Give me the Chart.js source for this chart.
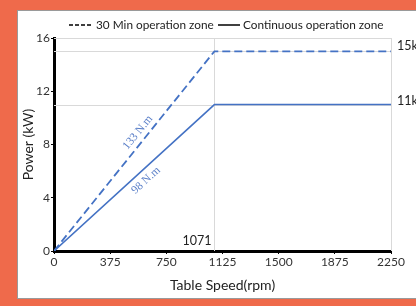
<!DOCTYPE html>
<html>
<head>
<meta charset="utf-8">
<script src="https://cdn.jsdelivr.net/npm/chart.js@4.4.0/dist/chart.umd.min.js"></script>
<style>
  html, body { margin: 0; padding: 0; }
  body { width: 416px; height: 306px; background: #EF6A4B; position: relative; overflow: hidden; }
  #panel { position: absolute; left: 17px; top: 10px; width: 410px; height: 287px; background: #fff; border: 1px solid #9a9a9a; }
  #chart { position: absolute; left: 0; top: 0; }
</style>
</head>
<body>
<div id="panel"></div>
<canvas id="chart" width="416" height="306"></canvas>
<script>
// datos de la gráfica
const speedPoints = [0, 1071, 2250];
const power30Min = [0, 15, 15];
const powerContinuous = [0, 11, 11];
const seriesNames = ["30 Min operation zone", "Continuous operation zone"];
const levelLabels = ["15kW", "11kW"];
const torqueLabels = ["133 N.m", "98 N.m"];
const cornerSpeed = 1071;

const FONT = "Lato, 'Open Sans', sans-serif";
const BLUE = "#4472C4";

function toXY(xs, ys) {
    return xs.map((x, i) => ({ x: x, y: ys[i] }));
}

// líneas de cuadrícula, marco y textos
const decorPlugin = {
    id: "decor",
    beforeDatasetsDraw(chart) {
        const { ctx, chartArea: a, scales: { x, y } } = chart;
        ctx.save();
        ctx.strokeStyle = "#d9d9d9";
        ctx.lineWidth = 1;
        ctx.beginPath();
        [power30Min[1], powerContinuous[1], 16].forEach(v => {
            const py = Math.round(y.getPixelForValue(v)) + 0.5;
            ctx.moveTo(a.left, py);
            ctx.lineTo(a.right, py);
        });
        [cornerSpeed, 2250].forEach(v => {
            const px = Math.round(x.getPixelForValue(v)) + 0.5;
            ctx.moveTo(px, a.top);
            ctx.lineTo(px, a.bottom);
        });
        ctx.stroke();
        ctx.restore();
    },
    afterDraw(chart) {
        const { ctx, scales: { x, y } } = chart;
        ctx.save();

        // leyenda
        ctx.font = "11.8px " + FONT;
        ctx.fillStyle = "#222";
        ctx.textBaseline = "middle";
        ctx.strokeStyle = "#000";
        ctx.lineWidth = 1.5;
        ctx.setLineDash([4, 2]);
        ctx.beginPath(); ctx.moveTo(69, 25); ctx.lineTo(93, 25); ctx.stroke();
        ctx.setLineDash([]);
        ctx.fillText(seriesNames[0], 96, 25);
        ctx.beginPath(); ctx.moveTo(218, 25); ctx.lineTo(240, 25); ctx.stroke();
        ctx.fillText(seriesNames[1], 243, 25);

        // potencias a la derecha
        ctx.font = "12.5px " + FONT;
        ctx.textAlign = "left";
        ctx.fillText(levelLabels[0], x.right + 6, y.getPixelForValue(power30Min[2]) - 5);
        ctx.fillText(levelLabels[1], x.right + 6, y.getPixelForValue(powerContinuous[2]) - 4);

        // velocidad de esquina
        ctx.textAlign = "right";
        ctx.fillText(String(cornerSpeed), x.getPixelForValue(cornerSpeed) - 3, y.bottom - 10);

        // pares sobre las rampas
        ctx.font = "11.5px 'Liberation Serif', 'DejaVu Serif', serif";
        ctx.fillStyle = "#5a7fc8";
        ctx.textAlign = "center";
        const rampa = (endY, txt, cx, cy) => {
            const ang = Math.atan2(y.getPixelForValue(endY) - y.getPixelForValue(0),
                                   x.getPixelForValue(cornerSpeed) - x.getPixelForValue(0));
            ctx.save();
            ctx.translate(x.getPixelForValue(cx), y.getPixelForValue(cy));
            ctx.rotate(ang);
            ctx.fillText(txt, 0, 0);
            ctx.restore();
        };
        rampa(power30Min[1], torqueLabels[0], 560, 8.9);
        rampa(powerContinuous[1], torqueLabels[1], 614, 5.3);

        ctx.restore();
    }
};

const ctx = document.getElementById("chart").getContext("2d");
new Chart(ctx, {
    type: "line",
    data: {
        datasets: [{
            label: seriesNames[0],
            data: toXY(speedPoints, power30Min),
            borderColor: BLUE,
            borderWidth: 1.8,
            borderDash: [8, 4],
            pointRadius: 0,
            tension: 0
        }, {
            label: seriesNames[1],
            data: toXY(speedPoints, powerContinuous),
            borderColor: BLUE,
            borderWidth: 1.6,
            pointRadius: 0,
            tension: 0
        }]
    },
    options: {
        responsive: false,
        animation: false,
        layout: { padding: { left: 20, right: 25, top: 38, bottom: 12 } },
        plugins: {
            legend: { display: false },
            tooltip: { enabled: false }
        },
        scales: {
            x: {
                type: "linear",
                min: 0,
                max: 2250,
                afterFit(scale) { scale.height = 43; },
                ticks: {
                    stepSize: 375, color: "#333", font: { size: 12, family: FONT }, padding: 1, maxRotation: 0,
                    callback: v => String(v)
                },
                grid: { drawOnChartArea: false, tickLength: 3, color: "#000" },
                border: { color: "#000", width: 3 },
                title: { display: true, text: "Table Speed(rpm)", color: "#222", font: { size: 14, family: FONT }, padding: 0 }
            },
            y: {
                min: 0,
                max: 16,
                afterFit(scale) { scale.width = 34; },
                ticks: { stepSize: 4, color: "#333", font: { size: 12, family: FONT }, padding: 1 },
                grid: { drawOnChartArea: false, tickLength: 3, color: "#000" },
                border: { color: "#000", width: 3 },
                title: { display: true, text: "Power (kW)", color: "#222", font: { size: 14, family: FONT }, padding: 0 }
            }
        }
    },
    plugins: [decorPlugin]
});
</script>
</body>
</html>
